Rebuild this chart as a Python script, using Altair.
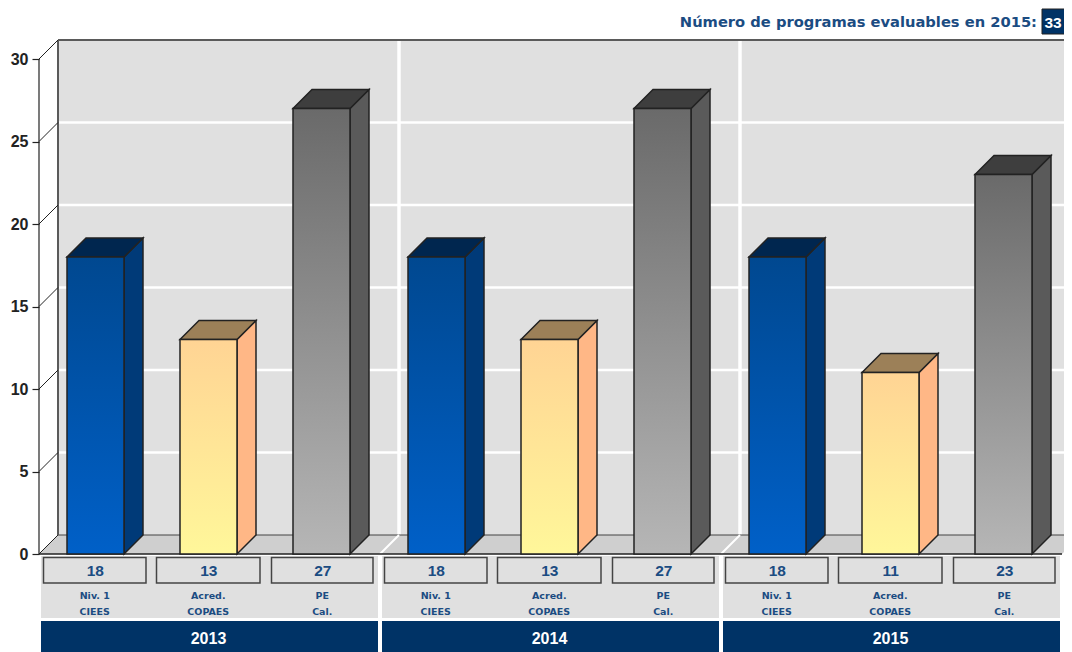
import altair as alt
import pandas as pd

# ---- values ----
years = ["2013", "2014", "2015"]
line1 = ["Niv. 1", "Acred.", "PE"]
line2 = ["CIEES", "COPAES", "Cal."]
series = ["a", "b", "c"]
values = [[18, 13, 27], [18, 13, 27], [18, 11, 23]]
grid_values = [5, 10, 15, 20, 25]
ticks = [0, 5, 10, 15, 20, 25, 30]
front_top = ["#004890", "#FFD494", "#6A6A6A"]
front_bot = ["#0060C8", "#FFF79A", "#B6B6B6"]
side_col = ["#003A78", "#FFB786", "#5A5A5A"]
top_col = ["#00264F", "#9C8058", "#3E3E3E"]
header = "Número de programas evaluables en 2015:"
header_value = "33"

# ---- layout (pixel-like units of the x scale; y in data units) ----
W, H = 1056, 644
PX = 495 / 30            # pixels per unit
OX, OY = 8, 8
Y0 = 554 - OY
def py(p):               # page row -> value scale
    return (Y0 - (p - OY)) / PX
def px(p):
    return p - OX
DEP_X = 19
DEP = 19 / PX
GROUP = 341
SLOT = 113
FX0 = 67
BW = 57

x_scale = alt.Scale(domain=[0, W], range=[0, W], nice=False, zero=False)
y_scale = alt.Scale(domain=[py(8 + H), py(8)], range=[H, 0], nice=False, zero=False)
y_axis = alt.Axis(
    values=ticks, domain=False, grid=False, offset=-px(39), tickSize=7, tickColor="#222222", tickWidth=1.2,
    labelFont="Liberation Sans", labelFontSize=16, labelFontWeight="bold", labelColor="#222222",
    labelPadding=4, title=None, format="d")
X = lambda f: alt.X(f, type="quantitative", scale=x_scale, axis=None)
Y = lambda f: alt.Y(f, type="quantitative", scale=y_scale, axis=y_axis)
X2 = lambda f: alt.X2(f)
Y2 = lambda f: alt.Y2(f)

def rect(df, **kw):
    return alt.Chart(df).mark_rect(**kw).encode(x=X("x0"), x2=X2("x1"), y=Y("y0"), y2=Y2("y1"))

def segs(rows, **kw):
    df = pd.DataFrame(rows, columns=["x0", "x1", "y0", "y1"])
    return alt.Chart(df).mark_rule(**kw).encode(x=X("x0"), x2=X2("x1"), y=Y("y0"), y2=Y2("y1"))

xw0, xw1 = px(58), W + 20
xf0, xf1 = px(39), px(1062)

layers = []
# wall
layers.append(rect(pd.DataFrame([{"x0": xw0, "x1": xw1, "y0": DEP, "y1": 30 + DEP}]), color="#E0E0E0"))
# floor
floor = pd.DataFrame([
    {"x": xf0, "a": 0, "b": 0},
    {"x": xf0 + DEP_X, "a": 0, "b": DEP},
    {"x": xf1, "a": 0, "b": DEP},
    {"x": xf1 + DEP_X, "a": DEP, "b": DEP},
])
layers.append(alt.Chart(floor).mark_area(color="#CFCFCF").encode(x=X("x"), y=Y("a"), y2=Y2("b")))
# horizontal wall grid
layers.append(segs([[xw0, xw1, v + DEP, v + DEP] for v in grid_values], color="#FFFFFF", strokeWidth=2.5))
# group separators
seps = [px(399) + i * GROUP for i in range(2)]
layers.append(segs([[s, s, DEP, 30 + DEP] for s in seps], color="#FFFFFF", strokeWidth=3.5))
# wall border
layers.append(segs([[xw0, xw1, DEP, DEP]], color="#444444", strokeWidth=1.2))
layers.append(segs([[s - DEP_X, s, 0, DEP] for s in seps], color="#FFFFFF", strokeWidth=2))
layers.append(segs([[xw0, xw1, 30 + DEP, 30 + DEP], [xw0, xw0, DEP, 30 + DEP]], color="#5A5A5A", strokeWidth=2))
# left wall diagonals
layers.append(segs([[xf0, xw0, v, v + DEP] for v in ticks], color="#222222", strokeWidth=1))
layers.append(segs([[xf0, xf0, 0, 30]], color="#222222", strokeWidth=1.2))
layers.append(segs([[xf0, xf1, 0, 0]], color="#222222", strokeWidth=1.5))

# bars
stroke = dict(stroke="#222222", strokeWidth=1.5)
for j, name in enumerate(series):
    rows_front, rows_side, rows_top = [], [], []
    for i in range(len(years)):
        v = values[i][j]
        x0 = px(FX0) + i * GROUP + j * SLOT
        x1 = x0 + BW
        k = f"{i}-{j}"
        rows_front.append({"x0": x0, "x1": x1, "y0": 0, "y1": v})
        rows_side += [
            {"k": k, "x": x1, "lo": 0, "hi": v},
            {"k": k, "x": x1 + DEP_X, "lo": DEP, "hi": v + DEP},
        ]
        rows_top += [
            {"k": k, "y": v, "l": x0, "r": x1},
            {"k": k, "y": v + DEP, "l": x0 + DEP_X, "r": x1 + DEP_X},
        ]
    layers.append(alt.Chart(pd.DataFrame(rows_side)).mark_area(color=side_col[j], **stroke).encode(
        x=X("x"), y=Y("lo"), y2=Y2("hi"), detail="k:N"))
    layers.append(alt.Chart(pd.DataFrame(rows_top)).mark_area(color=top_col[j], orient="horizontal", **stroke).encode(
        y=Y("y"), x=X("l"), x2=X2("r"), detail="k:N"))
    grad = alt.Gradient(gradient="linear", x1=0, x2=0, y1=0, y2=1,
                        stops=[alt.GradientStop(color=front_top[j], offset=0),
                               alt.GradientStop(color=front_bot[j], offset=1)])
    layers.append(alt.Chart(pd.DataFrame(rows_front)).mark_rect(color=grad, **stroke).encode(
        x=X("x0"), x2=X2("x1"), y=Y("y0"), y2=Y2("y1")))

# bottom panels
panel, band, boxes, vals, l1, l2, yrs = [], [], [], [], [], [], []
for i, yr in enumerate(years):
    a = px(41) + i * GROUP
    b = px(378) + i * GROUP
    panel.append({"x0": a, "x1": b, "y0": py(556), "y1": py(618)})
    band.append({"x0": a, "x1": b, "y0": py(621), "y1": py(660)})
    yrs.append({"x": (a + b) / 2 - 1, "y": py(638.5), "t": yr})
    for j in range(3):
        bx0 = px([43.5, 156.5, 271.5][j]) + i * GROUP
        bx1 = px([146, 260, 373][j]) + i * GROUP
        c = (bx0 + bx1) / 2
        boxes.append({"x0": bx0, "x1": bx1, "y0": py(557.5), "y1": py(583)})
        vals.append({"x": c + 0.5, "y": py(570.5), "t": str(values[i][j])})
        l1.append({"x": c, "y": py(595.5), "t": line1[j]})
        l2.append({"x": c, "y": py(611.5), "t": line2[j]})
layers.append(rect(pd.DataFrame(panel), color="#E0E0E0"))
layers.append(rect(pd.DataFrame(band), color="#003366"))
layers.append(rect(pd.DataFrame(boxes), color="#E0E0E0", stroke="#444444", strokeWidth=1.5))

def text(rows, **kw):
    return alt.Chart(pd.DataFrame(rows)).mark_text(baseline="middle", fontWeight="bold", **kw).encode(
        x=X("x"), y=Y("y"), text="t:N")

BLUE = "#1B4C82"
layers.append(text(vals, font="Liberation Sans", fontSize=15.5, color=BLUE))
layers.append(text(l1, font="DejaVu Sans", fontSize=9.5, color=BLUE))
layers.append(text(l2, font="DejaVu Sans", fontSize=9.5, color=BLUE))
layers.append(text(yrs, font="Liberation Sans", fontSize=16, color="#FFFFFF"))

# header
layers.append(text([{"x": px(1037), "y": py(23), "t": header}], font="DejaVu Sans", fontSize=14.7, color=BLUE, align="right"))
layers.append(rect(pd.DataFrame([{"x0": px(1042), "x1": W + 20, "y0": py(34), "y1": py(9)}]), color="#003366", stroke="#222222", strokeWidth=1))
layers.append(text([{"x": px(1053), "y": py(22.5), "t": header_value}], font="Liberation Sans", fontSize=15.5, color="#FFFFFF"))

chart = alt.layer(*layers).properties(
    width=W, height=H, padding=0,
    autosize=alt.AutoSizeParams(type="none"),
    background="#FFFFFF",
).configure_view(stroke=None, clip=False)

chart.save("out.html", embed_options={"renderer": "svg", "actions": False})
